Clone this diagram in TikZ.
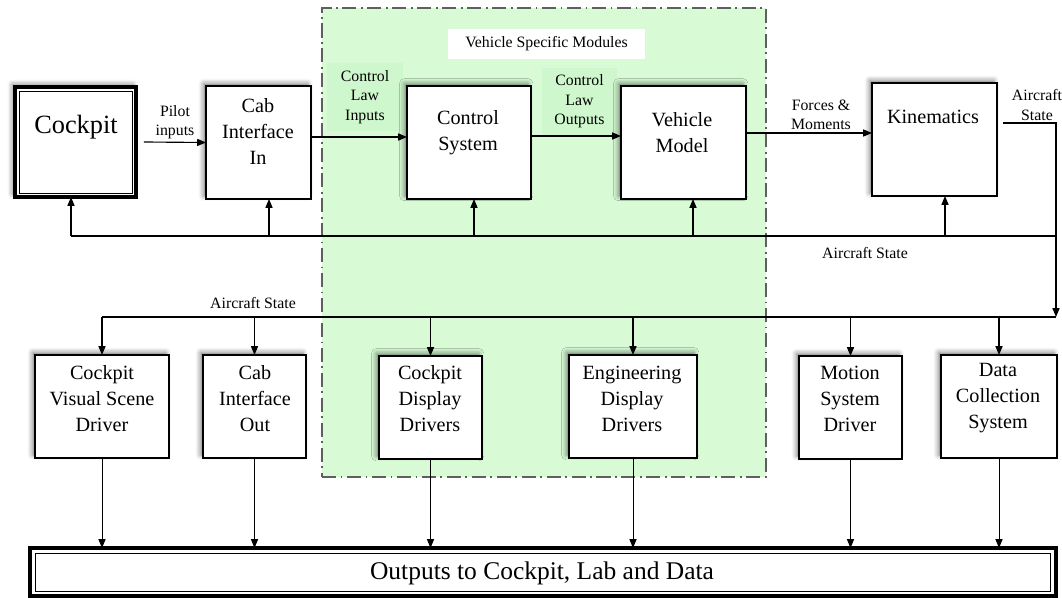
\documentclass[tikz,border=0pt]{standalone}
\usepackage{fontspec}
\setmainfont{Liberation Serif}
\usetikzlibrary{arrows.meta, positioning, shadows, shadows.blur}

\definecolor{modgreen}{RGB}{216,251,214}
\definecolor{lawgreen}{RGB}{207,247,205}
\definecolor{framegray}{RGB}{95,95,95}

\tikzset{
  box/.style={draw, fill=white, line width=0.7pt, outer sep=0pt, inner sep=0pt,
    blur shadow={shadow xshift=-1.6pt, shadow yshift=1.6pt, shadow blur radius=2.6pt, shadow opacity=50}},
  region/.style={draw=framegray, fill=modgreen, line width=1.2pt, outer sep=0pt,
    dash pattern=on 8pt off 2.6pt on 1pt off 2.6pt},
  lawbox/.style={fill=lawgreen, outer sep=0pt, inner sep=0pt, small},
  bigtxt/.style={font=\fontsize{11.5}{14.8}\selectfont, align=center, inner sep=0pt},
  small/.style={font=\fontsize{9}{11}\selectfont, align=center, inner sep=1.5pt},
  arr/.style={-{Triangle[length=5pt,width=4pt]}, line width=0.65pt},
  bus/.style={line width=0.7pt},
}

\begin{document}
\begin{tikzpicture}[x=0.02cm, y=-0.02cm]
    \useasboundingbox (0,0) rectangle (1062,598);

    % vehicle specific part
    \node (vsm) [region, minimum width=8.88cm, minimum height=9.38cm] at (544,242.5) {};
    \node (vsmtitle) [fill=white, small, minimum width=3.94cm, minimum height=0.6cm] at (546.5,44) {Vehicle Specific Modules};
    \node (lawin) [lawbox, minimum width=1.52cm, minimum height=1.36cm] at (365,97) {Control\\Law\\Inputs};
    \node (lawout) [lawbox, minimum width=1.5cm, minimum height=1.34cm] at (579.5,101.5) {Control\\Law\\Outputs};

    % top row
    \node (ck) [box, line width=2.2pt, minimum width=2.42cm, minimum height=2.2cm] at (75.5,142) {};
    \draw [line width=0.5pt] ([shift={(4,4)}]ck.north west) rectangle ([shift={(-4,-4)}]ck.south east);
    \node [bigtxt, font=\fontsize{15}{18}\selectfont] at (76,127) {Cockpit};

    \node (cabin) [box, minimum width=2.1cm, minimum height=2.26cm] at (258.5,142.5) {};
    \node [bigtxt] at (258,131) {Cab\\Interface\\In};

    \node (cs) [box, minimum width=2.48cm, minimum height=2.26cm] at (469,142.5) {};
    \node [bigtxt] at (468,133) {Control\\System};

    \node (vm) [box, minimum width=2.5cm, minimum height=2.26cm] at (683.5,142.5) {};
    \node [bigtxt] at (682,133) {Vehicle\\Model};

    \node (km) [box, minimum width=2.5cm, minimum height=2.26cm] at (934.5,139.5) {};
    \node [bigtxt] at (933,117) {Kinematics};

    % bottom row
    \node (cvsd) [box, minimum width=2.68cm, minimum height=2.06cm] at (102,406.5) {};
    \node [bigtxt] at (102,398.5) {Cockpit\\Visual Scene\\Driver};

    \node (cio) [box, minimum width=2.06cm, minimum height=2.06cm] at (254.5,406.5) {};
    \node [bigtxt] at (255,398.5) {Cab\\Interface\\Out};

    \node (cdd) [box, minimum width=2.06cm, minimum height=2.06cm] at (430.5,407.5) {};
    \node [bigtxt] at (430,398.5) {Cockpit\\Display\\Drivers};

    \node (edd) [box, minimum width=2.56cm, minimum height=2.06cm] at (633,406.5) {};
    \node [bigtxt] at (632,398.5) {Engineering\\Display\\Drivers};

    \node (msd) [box, minimum width=2.06cm, minimum height=2.06cm] at (850.5,407.5) {};
    \node [bigtxt] at (850,398.5) {Motion\\System\\Driver};

    \node (dcs) [box, minimum width=2.32cm, minimum height=2.06cm] at (999,406.5) {};
    \node [bigtxt] at (998,398.5) {Data\\Collection\\System};

    % outputs
    \node (out) [draw, fill=white, line width=2pt, outer sep=0pt, minimum width=20.52cm, minimum height=0.96cm] at (543,572) {};
    \draw [line width=0.5pt] ([shift={(5,5)}]out.north west) rectangle ([shift={(-5,-5)}]out.south east);
    \node [bigtxt, font=\fontsize{14.5}{17}\selectfont] at (542,573) {Outputs to Cockpit, Lab and Data};

    % forward path
    \path [arr]
        ([xshift=0.16cm]ck.east) edge node[small, above] {Pilot\\inputs} (cabin.west)
        (cabin.east |- 0,137) edge (cs.west |- 0,137)
        (cs.east |- 0,136) edge (vm.west |- 0,136)
        (vm.east |- 0,133) edge node[small, above, xshift=0.24cm] {Forces \&\\Moments} (km.west |- 0,133)
        ;

    % aircraft state buses
    \coordinate (upR) at (1056,236);
    \coordinate (loR) at (1056,317);
    \coordinate (fb1) at (71,236);
    \coordinate (fb2) at (269,236);
    \coordinate (fb3) at (474,236);
    \coordinate (fb4) at (693,236);
    \coordinate (fb5) at (945,236);

    \draw [arr] ([xshift=0.12cm]km.east |- 0,123) -| (loR);
    \node (stR) [small] at (1037,105) {Aircraft\\State};

    \draw [bus] (fb1) -- (upR);
    \draw [arr] (fb1) -- (fb1 |- ck.south);
    \draw [arr] (fb2) -- (fb2 |- cabin.south);
    \draw [arr] (fb3) -- (fb3 |- cs.south);
    \draw [arr] (fb4) -- (fb4 |- vm.south);
    \draw [arr] (fb5) -- (fb5 |- km.south);
    \node (stU) [small] at (865,253) {Aircraft State};

    \draw [bus] (cvsd.north |- loR) -- (loR);
    \node (stL) [small] at (253,303) {Aircraft State};
    \foreach \b in {cvsd, cio, cdd, edd, msd, dcs} {
        \draw [arr] (\b.north |- loR) -- (\b.north);
        \draw [arr, line width=0.5pt] (\b.south) -- (\b.south |- out.north);
    }
\end{tikzpicture}
\end{document}
